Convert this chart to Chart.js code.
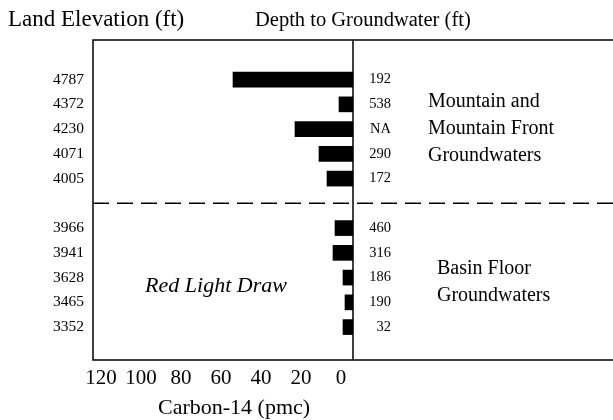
<!DOCTYPE html>
<html>
<head>
<meta charset="utf-8">
<script src="https://cdn.jsdelivr.net/npm/chart.js@4/dist/chart.umd.min.js"></script>
<style>
  html, body { margin: 0; padding: 0; background: #fff; }
  canvas { display: block; }
</style>
</head>
<body>
<canvas id="c14Chart" width="613" height="420"></canvas>
<script>
/* ── Data ─────────────────────────────────── */
const elevations = ['4787', '4372', '4230', '4071', '4005', '3966', '3941', '3628', '3465', '3352'];
const depths     = ['192', '538', 'NA', '290', '172', '460', '316', '186', '190', '32'];
const carbon14   = [60, 7, 29, 17, 13, 9, 10, 5, 4, 5];
const rows       = [0, 1, 2, 3, 4, 6, 7, 8, 9, 10];   // row 5 is the gap between groups
const gapRow     = 5;
const xTicks     = [0, 20, 40, 60, 80, 100, 120];

const mountainLabel = ['Mountain and', 'Mountain Front', 'Groundwaters'];
const basinLabel    = ['Basin Floor', 'Groundwaters'];
const siteLabel     = 'Red Light Draw';
const leftTitle     = 'Land Elevation (ft)';
const rightTitle    = 'Depth to Groundwater (ft)';
const xTitle        = 'Carbon-14 (pmc)';

const SERIF = "'Liberation Serif', 'Times New Roman', serif";
Chart.defaults.font.family = SERIF;
Chart.defaults.color = '#000';

/* ── Frame, separator and notes ───────────── */
const frameAndNotes = {
  id: 'frameAndNotes',
  afterDraw(chart) {
    const { ctx, chartArea: a, scales: { x, y } } = chart;
    const right = chart.width;
    const x0 = x.getPixelForValue(0);
    ctx.save();
    ctx.strokeStyle = '#000';
    ctx.lineWidth = 1.5;
    ctx.beginPath();
    ctx.moveTo(right, a.top);
    ctx.lineTo(a.left, a.top);
    ctx.lineTo(a.left, a.bottom);
    ctx.lineTo(right, a.bottom);
    ctx.moveTo(x0, a.top);
    ctx.lineTo(x0, a.bottom);
    ctx.stroke();

    // dashed line between the two groups
    const yg = y.getPixelForValue(gapRow);
    ctx.setLineDash([16, 8]);
    ctx.beginPath();
    ctx.moveTo(a.left, yg);
    ctx.lineTo(right, yg);
    ctx.stroke();
    ctx.setLineDash([]);

    ctx.fillStyle = '#000';
    ctx.textBaseline = 'alphabetic';
    ctx.textAlign = 'left';
    ctx.font = `23px ${SERIF}`;
    ctx.fillText(leftTitle, 8, 26);
    ctx.font = `20.5px ${SERIF}`;
    ctx.fillText(rightTitle, 255, 26);
    ctx.font = `22px ${SERIF}`;
    ctx.fillText(xTitle, 158, 414);

    ctx.font = `20px ${SERIF}`;
    ctx.textBaseline = 'middle';
    mountainLabel.forEach((t, i) => ctx.fillText(t, 428, y.getPixelForValue(0.9 + i * 1.08)));
    basinLabel.forEach((t, i) => ctx.fillText(t, 437, y.getPixelForValue(7.65 + i * 1.1)));

    ctx.font = `italic 22px ${SERIF}`;
    ctx.textAlign = 'center';
    ctx.fillText(siteLabel, 216, y.getPixelForValue(8.35));
    ctx.restore();
  }
};

/* ── Chart ────────────────────────────────── */
const rowAxis = (position, labels, width, padding) => ({
  type: 'linear',
  position,
  reverse: true,
  offset: false,
  min: -1.6,
  max: 11.33,
  grid: { display: false, drawTicks: false, offset: false },
  border: { display: false },
  afterBuildTicks: s => { s.ticks = rows.map(v => ({ value: v })); },
  afterFit: s => { s.width = width; },
  ticks: {
    autoSkip: false,
    padding,
    crossAlign: position === 'right' ? 'far' : 'near',
    font: { size: position === 'right' ? 14.5 : 15.5 },
    callback: (v, i) => labels[i],
  },
});

new Chart(document.getElementById('c14Chart'), {
  type: 'bar',
  data: {
    datasets: [{
      label: 'Carbon-14',
      data: rows.map((r, i) => ({ x: carbon14[i], y: r })),
      backgroundColor: '#000',
      borderWidth: 0,
      barThickness: 15,
      yAxisID: 'y',
    }],
  },
  options: {
    indexAxis: 'y',
    responsive: false,
    animation: false,
    layout: { padding: { top: 40, right: 222, left: 0, bottom: 0 } },
    plugins: { legend: { display: false }, tooltip: { enabled: false } },
    scales: {
      x: {
        type: 'linear',
        reverse: true,
        offset: false,
        min: 0,
        max: 130,
        grid: { display: false, drawTicks: false },
        border: { display: false },
        afterBuildTicks: s => { s.ticks = xTicks.map(v => ({ value: v })); },
        afterFit: s => { s.height = 60; },
        ticks: { font: { size: 21 }, padding: 6, labelOffset: -12, maxRotation: 0, autoSkip: false },
      },
      y: rowAxis('left', elevations, 93, 9),
      y2: rowAxis('right', depths, 38, 0),
    },
  },
  plugins: [frameAndNotes],
});
</script>
</body>
</html>
